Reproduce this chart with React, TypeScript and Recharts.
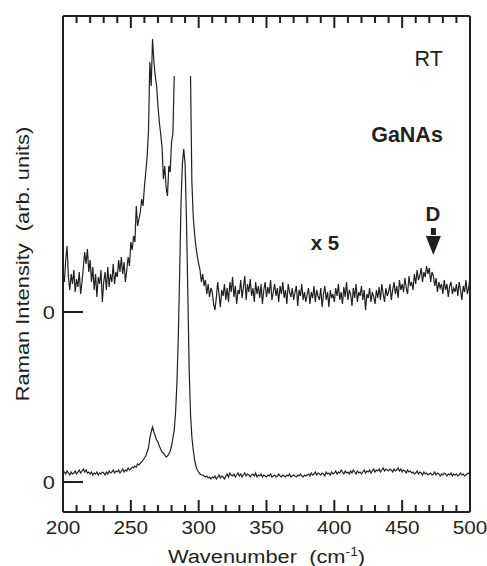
import React from 'react';
import { LineChart, Line, XAxis, YAxis, ReferenceDot, ReferenceLine } from 'recharts';

// Wavenumber grid (cm^-1)
const WN_START = 200;
const WN_STEP = 1;

// Lower spectrum, intensity above its zero (arb. units)
const LOWER: number[] = [
  9, 10, 8, 11, 9, 7, 10, 8, 9, 11,
  8, 10, 12, 9, 11, 13, 10, 12, 9, 10,
  8, 10, 7, 9, 8, 10, 7, 9, 8, 10,
  9, 7, 10, 8, 11, 9, 10, 12, 9, 11,
  10, 12, 9, 11, 13, 10, 12, 11, 14, 12,
  13, 15, 14, 16, 15, 18, 17, 19, 20, 22,
  24, 26, 30, 34, 44, 50, 55, 50, 46, 42,
  40, 36, 33, 30, 29, 27, 25, 26, 28, 31,
  36, 44, 52, 70, 100, 145, 210, 280, 318, 333,
  318, 262, 190, 112, 68, 45, 32, 22, 16, 12,
  10, 8, 7, 7, 6, 5, 6, 4, 5, 3,
  5, 4, 6, 3, 5, 7, 4, 6, 5, 3,
  6, 8, 5, 9, 7, 6, 8, 5, 7, 9,
  6, 8, 5, 7, 9, 6, 8, 7, 5, 7,
  8, 6, 9, 5, 7, 6, 8, 5, 7, 6,
  5, 7, 6, 8, 5, 6, 7, 5, 6, 8,
  6, 5, 7, 6, 5, 7, 6, 8, 5, 6,
  7, 6, 5, 7, 6, 8, 6, 5, 7, 6,
  7, 8, 6, 9, 7, 8, 10, 7, 9, 8,
  7, 9, 8, 6, 10, 8, 9, 7, 10, 8,
  9, 11, 8, 10, 9, 12, 10, 8, 11, 9,
  10, 8, 11, 9, 12, 10, 8, 11, 9, 10,
  8, 10, 12, 9, 11, 10, 12, 9, 11, 13,
  10, 12, 11, 13, 10, 12, 14, 11, 13, 12,
  11, 13, 12, 10, 13, 11, 12, 14, 11, 13,
  10, 12, 11, 9, 12, 10, 11, 9, 10, 8,
  9, 11, 8, 10, 9, 7, 10, 8, 9, 7,
  8, 9, 7, 8, 10, 7, 9, 8, 6, 8,
  7, 9, 8, 6, 8, 7, 9, 6, 8, 7,
  8, 6, 7, 9, 7, 8, 6, 7, 8, 9,
  8,
];

// Upper spectrum (x 5), intensity above its own zero; main peak cut off (null)
const UPPER: (number | null)[] = [
  40, 30, 52, 66, 35, 22, 38, 28, 42, 20,
  33, 25, 40, 18, 30, 45, 60, 48, 63, 40,
  52, 30, 45, 22, 38, 15, 35, 28, 42, 10,
  30, 40, 22, 45, 25, 38, 30, 48, 28, 40,
  35, 52, 40, 55, 38, 50, 30, 42, 55, 46,
  70, 62, 76, 70, 106, 86, 93, 100, 113, 106,
  125, 140, 155, 180, 250, 226, 273, 250, 236, 226,
  206, 190, 178, 165, 133, 146, 125, 116, 146, 140,
  170, 178, 236, null, null, null, null, null, null, null,
  null, null, null, null, 236, 130, 95, 78, 65, 56,
  48, 42, 30, 38, 26, 32, 18, 28, 15, 24,
  20, 8, 2, 14, 30, 18, 5, 22, 16, 28,
  12, 24, 10, 30, 20, 35, 15, 26, 8, 22,
  18, 32, 14, 25, 36, 12, 28, 20, 33, 16,
  24, 10, 30, 18, 26, 14, 28, 8, 22, 30,
  15, 25, 18, 32, 12, 20, 28, 16, 24, 10,
  26, 18, 30, 14, 22, 8, 28, 20, 15, 24,
  12, 20, 26, 6, 22, 16, 28, 12, 20, 10,
  18, 24, 8, 20, 14, 26, 10, 22, 16, 12,
  24, 5, 18, 26, 12, 20, 5, 22, 14, 18,
  10, 24, 16, 28, 12, 20, 8, 25, 15, 30,
  12, 22, 18, 6, 24, 14, 28, 10, 20, 16,
  26, 12, 22, 2, 18, 14, 24, 10, 20, 15,
  8, 22, 14, 25, 12, 28, 18, 10, 24, 16,
  20, 28, 12, 22, 30, 18, 26, 14, 32, 22,
  28, 20, 34, 24, 18, 36, 26, 30, 22, 38,
  28, 42, 32, 36, 44, 30, 40, 35, 46, 38,
  44, 30, 40, 36, 26, 34, 20, 30, 24, 28,
  18, 32, 22, 28, 15, 26, 30, 18, 24, 20,
  28, 16, 30, 22, 12, 26, 20, 32, 18, 24,
  35,
];

const UPPER_OFFSET = 170; // vertical offset of upper trace
const X_DOMAIN: [number, number] = [200, 500];
const Y_DOMAIN: [number, number] = [-30, 466];
const X_TICKS = [
  200, 210, 220, 230, 240, 250, 260, 270, 280, 290, 300,
  310, 320, 330, 340, 350, 360, 370, 380, 390, 400,
  410, 420, 430, 440, 450, 460, 470, 480, 490, 500,
];
const Y_TICKS = [0, UPPER_OFFSET];
const Y_TICK_LABELS = ['0', '0'];

const INK = '#231f20';
const FONT = '"Liberation Sans", Arial, Helvetica, sans-serif';
const STRETCH = 1.15;
const PLOT_H = 496;

const data = LOWER.map((v, i) => ({
  wn: WN_START + i * WN_STEP,
  lower: v,
  upper: UPPER[i] == null ? null : (UPPER[i] as number) + UPPER_OFFSET,
}));

const WideText = ({ x, y, anchor, size, rotate, baseline, children }: any) => (
  <text
    transform={`translate(${x}, ${y})${rotate ? ` rotate(${rotate})` : ''} scale(${STRETCH}, 1)`}
    x={0}
    y={0}
    textAnchor={anchor}
    dominantBaseline={baseline || 'auto'}
    fontSize={size}
    fontFamily={FONT}
    fill={INK}
    style={{ whiteSpace: 'pre', fontFamily: FONT }}
  >
    {children}
  </text>
);

const BottomTick = (props: any) => {
  const { x, y, payload } = props;
  const v = payload.value;
  const major = v % 50 === 0;
  return (
    <g>
      <line x1={x} x2={x} y1={y} y2={y - (major ? 12 : 7)} stroke={INK} strokeWidth={2} />
      {v === X_DOMAIN[1] && <line x1={x} x2={x} y1={y} y2={y - PLOT_H} stroke={INK} strokeWidth={2} />}
      {major && (
        <WideText x={x} y={y + 22} anchor="middle" size={18}>
          {String(v)}
        </WideText>
      )}
    </g>
  );
};

const TopTick = (props: any) => {
  const { x, y, payload } = props;
  const major = payload.value % 50 === 0;
  return <line x1={x} x2={x} y1={y} y2={y + (major ? 12 : 7)} stroke={INK} strokeWidth={2} />;
};

const LeftTick = (props: any) => {
  const { x, y, index } = props;
  return (
    <g>
      <line x1={x} x2={x + 20} y1={y} y2={y} stroke={INK} strokeWidth={2} />
      <WideText x={x - 8} y={y} anchor="end" size={19} baseline="central">
        {Y_TICK_LABELS[index]}
      </WideText>
    </g>
  );
};

const XTitle = (props: any) => {
  const vb = props.viewBox || { x: 0, y: 0, width: 0, height: 0 };
  return (
    <WideText x={vb.x + vb.width / 2} y={vb.y + 51} anchor="middle" size={19}>
      {'Wavenumber  (cm'}
      <tspan dy={-7} fontSize={12}>-1</tspan>
      <tspan dy={7}>)</tspan>
    </WideText>
  );
};

const YTitle = (props: any) => {
  const vb = props.viewBox || { x: 0, y: 0, width: 0, height: 0 };
  return (
    <WideText x={vb.x + 14} y={vb.y + vb.height / 2} rotate={-90} anchor="middle" size={19} baseline="central">
      {'Raman Intensity  (arb. units)'}
    </WideText>
  );
};

const textShape = (label: string, anchor: string, size: number, bold: boolean) => (p: any) => (
  <text
    x={p.cx}
    y={p.cy}
    textAnchor={anchor}
    dominantBaseline="central"
    fontSize={size}
    fontWeight={bold ? 'bold' : 'normal'}
    fontFamily={FONT}
    fill={INK}
  >
    {label}
  </text>
);

const arrowShape = (p: any) => {
  const { cx, cy } = p;
  return (
    <g fill={INK}>
      <rect x={cx - 2.5} y={cy - 27} width={5} height={7} />
      <polygon points={`${cx - 7.5},${cy - 19} ${cx + 7.5},${cy - 19} ${cx},${cy}`} />
    </g>
  );
};

export default function App() {
  return (
    <div style={{ width: 479, height: 558, padding: 8 }}>
      <style>{'html, body { margin: 0; padding: 0; overflow: hidden; }'}</style>
      <LineChart
        width={479}
        height={558}
        data={data}
        margin={{ top: 7, right: 17, bottom: 0, left: 0 }}
      >
        <XAxis
          dataKey="wn"
          type="number"
          domain={X_DOMAIN}
          ticks={X_TICKS}
          interval={0}
          allowDataOverflow
          height={54}
          tickSize={0}
          tickMargin={0}
          tickLine={false}
          tick={<BottomTick />}
          axisLine={{ stroke: INK, strokeWidth: 2 }}
          label={<XTitle />}
        />
        <XAxis
          xAxisId="top"
          orientation="top"
          dataKey="wn"
          type="number"
          domain={X_DOMAIN}
          ticks={X_TICKS}
          interval={0}
          allowDataOverflow
          height={1}
          tickSize={0}
          tickMargin={0}
          tickLine={false}
          tick={<TopTick />}
          axisLine={{ stroke: INK, strokeWidth: 2 }}
        />
        <YAxis
          type="number"
          domain={Y_DOMAIN}
          ticks={Y_TICKS}
          interval={0}
          allowDataOverflow
          width={55}
          tickSize={0}
          tickMargin={0}
          tickLine={false}
          tick={<LeftTick />}
          axisLine={{ stroke: INK, strokeWidth: 2 }}
          label={<YTitle />}
        />
        <ReferenceLine x={X_DOMAIN[1]} stroke={INK} strokeWidth={2} ifOverflow="extendDomain" />
        <Line
          dataKey="lower"
          type="linear"
          stroke={INK}
          strokeWidth={1.2}
          dot={false}
          activeDot={false}
          isAnimationActive={false}
        />
        <Line
          dataKey="upper"
          type="linear"
          stroke={INK}
          strokeWidth={1.2}
          dot={false}
          activeDot={false}
          connectNulls={false}
          isAnimationActive={false}
        />
        <ReferenceDot x={480} y={423} r={0} shape={textShape('RT', 'end', 21.5, false)} />
        <ReferenceDot x={480} y={347} r={0} shape={textShape('GaNAs', 'end', 21.5, true)} />
        <ReferenceDot x={472.6} y={269} r={0} shape={textShape('D', 'middle', 20.5, true)} />
        <ReferenceDot x={382.6} y={240} r={0} shape={textShape('x 5', 'start', 20.5, true)} />
        <ReferenceDot x={473} y={227} r={0} shape={arrowShape} />
      </LineChart>
    </div>
  );
}
